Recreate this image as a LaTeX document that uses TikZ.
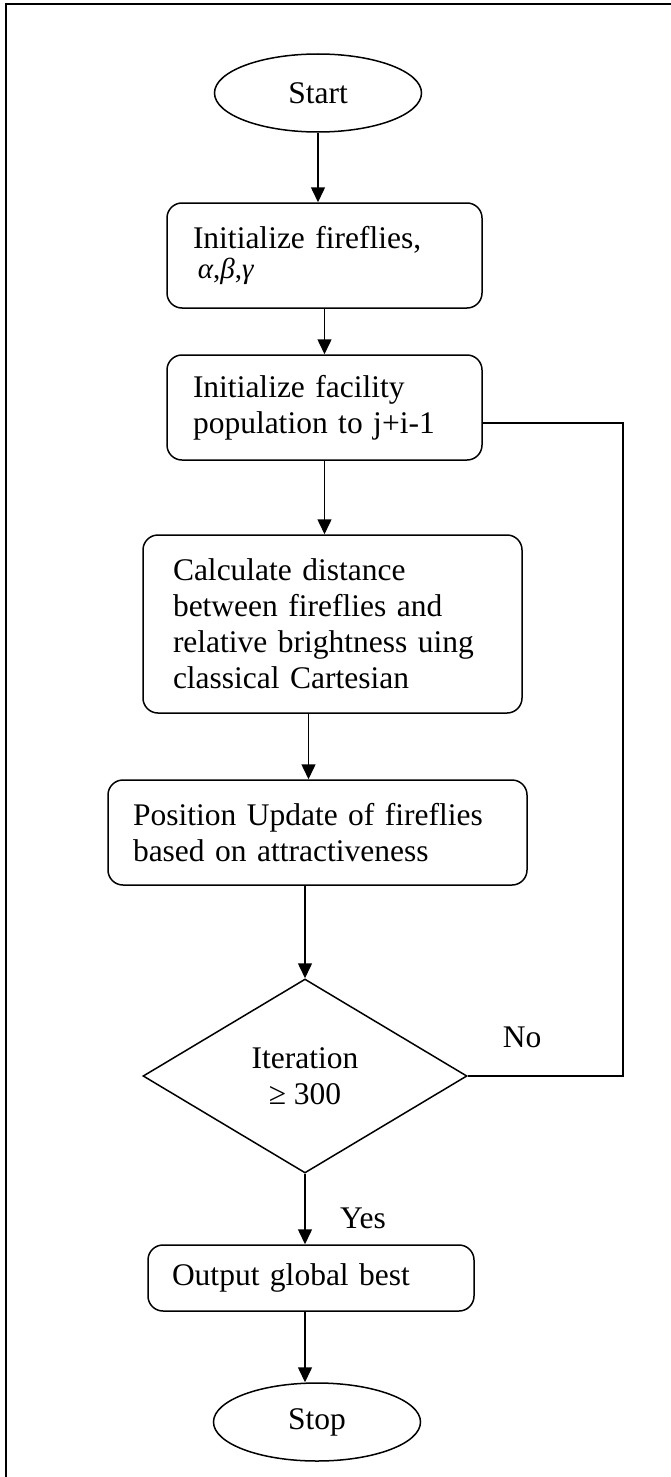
\documentclass[tikz,border=0pt]{standalone}
\usepackage{fontspec}
\setmainfont{Liberation Serif}
\usetikzlibrary{shapes.geometric,arrows.meta}

\begin{document}
\begin{tikzpicture}[x=1pt,y=-1pt,line width=1.5pt,
  every node/.style={font=\fontsize{31.5}{36}\selectfont},
  terminal/.style={draw,ellipse,inner sep=0pt,minimum width=207pt,minimum height=78pt},
  procbox/.style={draw,rounded corners=15pt,align=left,inner xsep=26pt,inner ysep=0pt},
  decision/.style={draw,diamond,inner sep=0pt,minimum width=324pt,minimum height=194pt,align=center},
  arr/.style={-{Triangle[length=15pt,width=14pt]}}]
\useasboundingbox (0,0) rectangle (670,1477);
\draw (6,1480) -- (6,4) -- (672,4);
\node[terminal] (start) at (318,93) {Start};
\node[procbox,text width=263pt,minimum height=105pt] (init) at (324.5,255.5)
  {Initialize fireflies,\\[-6pt] {\fontsize{29}{30}\selectfont\,\textit{α},\textit{β},\textit{γ}}};
\node[procbox,text width=263pt,minimum height=105pt] (pop) at (324.5,407.5)
  {Initialize facility\\population to j+i-1};
\node[procbox,inner xsep=30pt,text width=319pt,minimum height=178pt] (dist) at (332.5,624)
  {Calculate distance\\between fireflies and\\relative brightness uing\\classical Cartesian};
\node[procbox,inner xsep=25pt,text width=369pt,minimum height=105pt] (upd) at (317.5,832.5)
  {Position Update of fireflies\\based on attractiveness};
\node[decision] (iter) at (305,1076) {Iteration\\≥ 300};
\node[procbox,inner xsep=24pt,text width=278pt,minimum height=66pt] (out) at (311,1278)
  {Output global best};
\node[terminal] (stop) at (317,1422) {Stop};
\node (no) at (522,1037) {No};
\node (yes) at (363,1218) {Yes};
\coordinate (back) at (623,1076);
\coordinate (popin) at ([yshift=-15.5pt]pop.east);
\draw[arr] (start.south) -- (start.south |- init.north);
\draw[arr] (init.south) -- (init.south |- pop.north);
\draw[arr] (pop.south) -- (pop.south |- dist.north);
\draw[arr] ([xshift=-24pt]dist.south) -- ([xshift=-24pt]dist.south |- upd.north);
\draw[arr] (upd.south -| iter.north) -- (iter.north);
\draw[arr] (iter.south) -- (iter.south |- out.north);
\draw[arr] (out.south -| iter.south) -- (iter.south |- stop.north);
\draw (iter.east) -- (back) -- (back |- popin) -- (popin);
\end{tikzpicture}
\end{document}
